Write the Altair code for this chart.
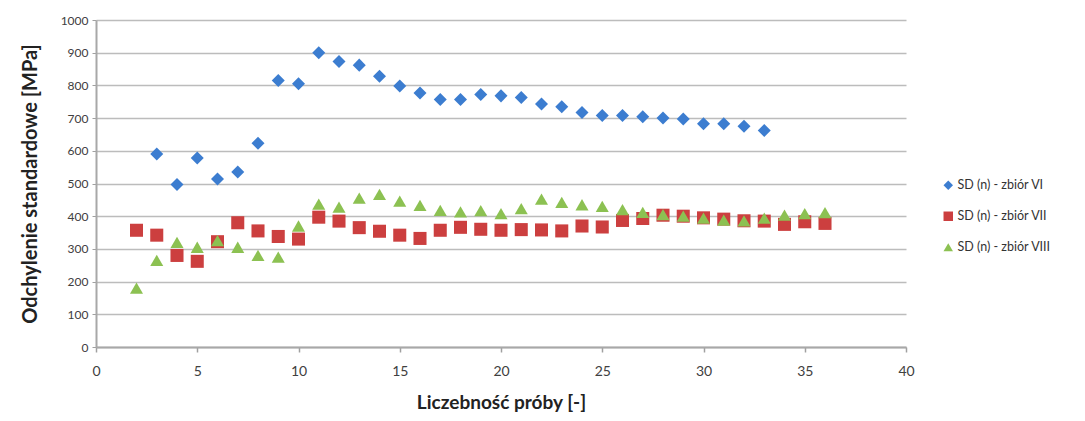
import altair as alt
import pandas as pd

series_names = ["SD (n) - zbiór VI", "SD (n) - zbiór VII", "SD (n) - zbiór VIII"]

x_vi = list(range(3, 34))
sd_vi = [590, 497, 578, 514, 535, 623, 815, 805, 900, 873, 862, 828, 798, 777,
         757, 757, 772, 768, 763, 743, 735, 717, 708, 708, 704, 700, 697, 683,
         683, 675, 662]

x_vii = list(range(2, 37))
sd_vii = [357, 342, 280, 262, 322, 380, 355, 338, 330, 397, 385, 365, 354, 342,
          332, 357, 366, 360, 357, 359, 358, 355, 370, 367, 387, 393, 403, 400,
          395, 391, 386, 385, 375, 383, 378]

x_viii = list(range(2, 37))
sd_viii = [180, 265, 320, 305, 325, 305, 280, 275, 370, 437, 428, 455, 467, 446,
           433, 418, 413, 417, 408, 423, 452, 442, 435, 430, 420, 412, 405, 400,
           394, 388, 386, 394, 403, 408, 411]

x_ticks = [0, 5, 10, 15, 20, 25, 30, 35, 40]
y_ticks = [0, 100, 200, 300, 400, 500, 600, 700, 800, 900, 1000]

colors = ["#3C7DD0", "#CC3F3F", "#8CC152"]
shapes = ["diamond", "square", "triangle-up"]

rows = []
for name, xs, ys in [(series_names[0], x_vi, sd_vi),
                     (series_names[1], x_vii, sd_vii),
                     (series_names[2], x_viii, sd_viii)]:
    for xv, yv in zip(xs, ys):
        rows.append({"n": xv, "sd": yv, "seria": name})
df = pd.DataFrame(rows)

font = "Lato"

chart = alt.Chart(df).mark_point(filled=True, opacity=1, size=170).encode(
    x=alt.X("n:Q", title="Liczebność próby [-]",
            scale=alt.Scale(domain=[0, 40], nice=False, zero=False),
            axis=alt.Axis(values=x_ticks, format="d", grid=False, tickSize=5,
                          tickColor="#a0a0a0", tickWidth=1.5, domainColor="#a8a8a8",
                          domainWidth=2, labelFont=font, labelFontSize=14,
                          labelColor="#404040", labelPadding=12, labelFlush=False,
                          titleFont=font, titleFontSize=19, titleFontWeight="bold",
                          titleColor="#222222", titlePadding=15)),
    y=alt.Y("sd:Q", title="Odchylenie standardowe [MPa]",
            scale=alt.Scale(domain=[0, 1000], nice=False),
            axis=alt.Axis(values=y_ticks, format="d", grid=True, gridColor="#bcbcbc",
                          gridWidth=1.5, tickSize=4, tickColor="#a0a0a0",
                          domainColor="#a8a8a8", domainWidth=2, labelFont=font,
                          labelFontSize=12, labelColor="#404040", labelPadding=4,
                          labelFlush=False,
                          titleFont=font, titleFontSize=20, titleFontWeight="bold",
                          titleColor="#222222", titlePadding=20)),
    color=alt.Color("seria:N", scale=alt.Scale(domain=series_names, range=colors),
                    legend=alt.Legend(title=None, orient="none", legendX=846, legendY=159,
                                      labelFont=font, labelFontSize=12.5,
                                      labelColor="#333333", symbolSize=90,
                                      rowPadding=18, labelOffset=3)),
    shape=alt.Shape("seria:N", scale=alt.Scale(domain=series_names, range=shapes),
                    legend=None),
).properties(
    width=810, height=327,
    padding={"left": 88, "top": 12, "right": 171, "bottom": 66},
    autosize=alt.AutoSizeParams(type="none"),
).configure_view(stroke=None)

chart.save("out.html", embed_options={"renderer": "svg", "actions": False})
